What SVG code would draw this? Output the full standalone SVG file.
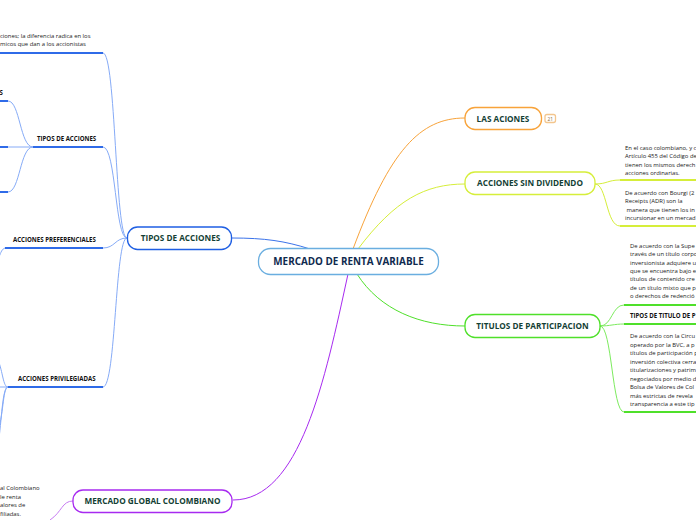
<svg xmlns="http://www.w3.org/2000/svg" width="696" height="520" viewBox="0 0 696 520">
<style>
text{font-family:"Open Sans","Noto Sans","Liberation Sans",sans-serif}
.node rect{fill:#fff;stroke-width:1.3}
.lbl{font-weight:bold;fill:#143f35;font-size:8.2px;text-anchor:middle}
.sub{font-weight:bold;fill:#111;font-size:6.1px}
.p{fill:#222;font-size:5.9px}
.c{fill:none;stroke-width:1}
.bl{stroke:#86abf7}
.ul{fill:none;stroke-width:2}
</style>
<rect width="696" height="520" fill="#fff"/>
<g id="connectors">
<path class="c" d="M310,249 C285,241 265,238 232,238" stroke="#3b73ea" stroke-width="1.5"/>
<path class="c" d="M353,249 C390,150 420,118 465,118" stroke="#f8a33a" stroke-width="1.5"/>
<path class="c" d="M358,249 C395,200 425,184 465,184" stroke="#d6ee3a" stroke-width="1.3"/>
<path class="c" d="M357,274 C380,310 420,326 465,326" stroke="#4fe02a" stroke-width="1.3"/>
<path class="c" d="M348,274 C325,380 300,500 233,500" stroke="#a72af0" stroke-width="1.5"/>
<path class="c bl" d="M127,238 C115,238 116,53 103,53"/>
<path class="c bl" d="M127,238 C115,238 116,147 103,147"/>
<path class="c bl" d="M127,238 C115,238 115,248 103,248"/>
<path class="c bl" d="M127,238 C115,238 116,387 103,387"/>
<path class="c bl" d="M33,147 C20,147 20,101 8,101"/>
<path class="c bl" d="M33,147 L8,147"/>
<path class="c bl" d="M33,147 C20,147 20,192 8,192"/>
<path class="c bl" d="M5,248 C2,249 1,252 -1,257"/>
<path class="c bl" d="M8,387 C3,387 3,372 -2,360"/>
<path class="c bl" d="M8,387 C3,387 4,410 -2,432"/>
<path class="c bl" d="M8,387 C2,388 2,420 -2,445"/>
<path class="c bl" d="M8,387 L0,387"/>
<path class="c" d="M73,501 C62,501 62,512 50,520" stroke="#c77cf2"/>
<path class="c" d="M595,184 C607,184 608,180 620,180" stroke="#d6ee3a"/>
<path class="c" d="M595,184 C607,184 606,226 620,226" stroke="#d6ee3a"/>
<path class="c" d="M600,326 C612,326 612,305 624,305" stroke="#7deb5f"/>
<path class="c" d="M600,326 C610,326 614,324 624,324" stroke="#7deb5f"/>
<path class="c" d="M600,326 C612,326 612,412 624,412" stroke="#7deb5f"/>
</g>
<g id="center" class="node">
<rect x="258.5" y="248.5" width="180" height="26" rx="12" stroke="#6aaee0"/>
<text x="348.5" y="265.3" text-anchor="middle" font-size="9.9" font-weight="bold" fill="#0f2a4e">MERCADO DE RENTA VARIABLE</text>
</g>
<g id="las-aciones" class="node">
<rect x="465" y="107.5" width="76.5" height="22" rx="10" stroke="#f8a33a"/>
<text class="lbl" x="503" y="121.5">LAS ACIONES</text>
<rect x="545" y="114.5" width="10.5" height="8" rx="2" fill="#fff" stroke="#f3c68e" stroke-width="0.8"/>
<text x="550.3" y="120.5" text-anchor="middle" font-size="4.8" fill="#8a6a3a">21</text>
</g>
<g id="sin-dividendo" class="node">
<rect x="465" y="172" width="130" height="22.5" rx="10" stroke="#d6ee3a"/>
<text class="lbl" x="530" y="186">ACCIONES SIN DIVIDENDO</text>
</g>
<g id="sin-div-1">
<line class="ul" x1="620" y1="180" x2="696" y2="180" stroke="#d6ee3a"/>
<text class="p" x="625" y="150">En el caso colombiano, y c</text>
<text class="p" x="625" y="158.4">Artículo 455 del Código de</text>
<text class="p" x="625" y="166.8">tienen los mismos derech</text>
<text class="p" x="625" y="175.2">acciones ordinarias.</text>
</g>
<g id="sin-div-2">
<line class="ul" x1="620" y1="226" x2="696" y2="226" stroke="#d6ee3a"/>
<text class="p" x="625" y="195">De acuerdo con Bourgi (2</text>
<text class="p" x="625" y="203.4">Receipts (ADR) son la</text>
<text class="p" x="626.5" y="211.8">manera que tienen los in</text>
<text class="p" x="625" y="220.2">incursionar en un mercad</text>
</g>
<g id="titulos" class="node">
<rect x="465" y="314.5" width="135" height="23" rx="10" stroke="#4fe02a"/>
<text class="lbl" x="532.5" y="329">TITULOS DE PARTICIPACION</text>
</g>
<g id="titulos-1">
<line class="ul" x1="624" y1="305" x2="696" y2="305" stroke="#4fe02a"/>
<text class="p" x="630" y="247.7">De acuerdo con la Supe</text>
<text class="p" x="630" y="256.1">través de un título corpo</text>
<text class="p" x="630" y="264.5">inversionista adquiere u</text>
<text class="p" x="630" y="272.9">que se encuentra bajo e</text>
<text class="p" x="630" y="281.3">títulos de contenido cre</text>
<text class="p" x="630" y="289.7">de un título mixto que p</text>
<text class="p" x="630" y="298.1">o derechos de redenció</text>
</g>
<g id="titulos-2">
<line class="ul" x1="624" y1="324" x2="696" y2="324" stroke="#4fe02a"/>
<text class="sub" x="630" y="317.5">TIPOS DE TITULO DE P</text>
</g>
<g id="titulos-3">
<line class="ul" x1="624" y1="412" x2="696" y2="412" stroke="#4fe02a"/>
<text class="p" x="630" y="338">De acuerdo con la Circu</text>
<text class="p" x="630" y="346.5">operado por la BVC, a p</text>
<text class="p" x="630" y="355">títulos de participación p</text>
<text class="p" x="630" y="363.5">inversión colectiva cerra</text>
<text class="p" x="630" y="372">titularizaciones y patrim</text>
<text class="p" x="630" y="380.5">negociados por medio d</text>
<text class="p" x="630" y="389">Bolsa de Valores de Col</text>
<text class="p" x="630" y="397.5">más estrictas de revela</text>
<text class="p" x="630" y="406">transparencia a este tip</text>
</g>
<g id="tipos-acciones" class="node">
<rect x="127.5" y="227" width="104" height="22.5" rx="10" stroke="#1f5fe3"/>
<text class="lbl" x="180.5" y="241">TIPOS DE ACCIONES</text>
</g>
<g id="acciones-def">
<line class="ul" x1="0" y1="53" x2="103" y2="53" stroke="#2f6be8"/>
<text class="p" x="0" y="37.7">ciones; la diferencia radica en los</text>
<text class="p" x="0" y="46.3">micos que dan a los accionistas</text>
</g>
<g id="tipos-sub">
<line class="ul" x1="33" y1="147" x2="103" y2="147" stroke="#2f6be8"/>
<text class="sub" x="37" y="141">TIPOS DE ACCIONES</text>
</g>
<g id="tipos-sub-1">
<line class="ul" x1="0" y1="101" x2="8" y2="101" stroke="#2f6be8"/>
<text class="sub" x="-0.5" y="95.3">S</text>
</g>
<g id="tipos-sub-2">
<line class="ul" x1="0" y1="147" x2="8" y2="147" stroke="#2f6be8"/>
</g>
<g id="tipos-sub-3">
<line class="ul" x1="0" y1="192" x2="8" y2="192" stroke="#2f6be8"/>
</g>
<g id="preferenciales">
<line class="ul" x1="5" y1="248" x2="103" y2="248" stroke="#2f6be8"/>
<text class="sub" x="13" y="242">ACCIONES PREFERENCIALES</text>
</g>
<g id="privilegiadas">
<line class="ul" x1="8" y1="387" x2="103" y2="387" stroke="#2f6be8"/>
<text class="sub" x="18" y="381">ACCIONES PRIVILEGIADAS</text>
</g>
<g id="mercado-global" class="node">
<rect x="73" y="490" width="159" height="22.5" rx="10" stroke="#a72af0"/>
<text class="lbl" x="152.5" y="504.3" font-size="8.6">MERCADO GLOBAL COLOMBIANO</text>
</g>
<g id="mercado-global-text">
<text class="p" x="0" y="490">al Colombiano</text>
<text class="p" x="0" y="498.6">le renta</text>
<text class="p" x="0" y="507.2">alores de</text>
<text class="p" x="0" y="515.8">filiadas.</text>
</g>
</svg>
